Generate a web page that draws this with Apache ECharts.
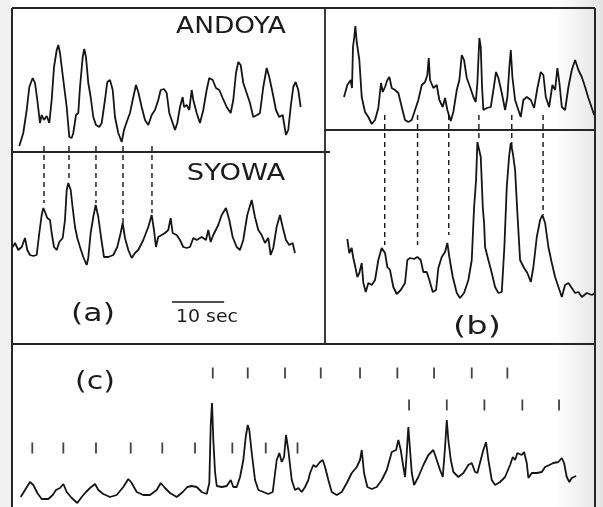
<!DOCTYPE html>
<html>
<head>
<meta charset="utf-8">
<script src="https://cdn.jsdelivr.net/npm/echarts@6/dist/echarts.min.js"></script>
<style>
  html, body { margin: 0; padding: 0; background: #fff; }
  #chart { width: 603px; height: 507px; }
</style>
</head>
<body>
<div id="chart"></div>
<script>
// time in seconds, amplitude in relative units
var andoya = [[1.4,6],[2.17,19],[2.83,42],[3.33,65],[3.98,74],[4.42,69],[4.87,52],[5.38,29],[5.71,37],[6.15,32],[6.67,36],[7.17,29],[7.63,52],[8.08,85],[8.6,102],[8.9,107],[9.23,99],[9.87,72],[10.52,45],[11.02,15],[11.48,14],[11.79,19],[12.31,37],[12.75,39],[13.08,65],[13.6,95],[13.9,103],[14.23,95],[14.67,69],[15.13,55],[15.63,35],[16.15,27],[16.79,25],[17.25,29],[17.88,52],[18.33,70],[18.85,72],[19.37,62],[19.81,35],[20.44,19],[21.1,10],[21.54,22],[22.06,30],[22.69,39],[23.33,55],[23.85,67],[24.29,60],[24.94,45],[25.58,32],[26.21,27],[26.87,37],[27.5,42],[28.13,52],[28.6,62],[29.23,63],[29.75,59],[30.25,39],[30.9,29],[31.35,22],[31.79,29],[32.31,45],[32.83,55],[33.08,45],[33.6,47],[34.1,42],[34.56,62],[34.87,52],[35.52,39],[36.15,29],[36.79,42],[37.44,62],[37.94,74],[38.6,72],[39.23,64],[39.87,62],[40.52,54],[41.29,45],[42.06,39],[42.56,52],[43.08,79],[43.52,90],[43.98,87],[44.48,69],[45.13,59],[45.77,49],[46.4,35],[47.17,37],[47.69,39],[48.33,65],[48.98,84],[49.48,75],[50.13,59],[50.77,42],[51.4,35],[52.06,37],[52.69,17],[53.13,22],[53.6,45],[54.1,65],[54.56,70],[55.06,62],[55.52,45]];

var syowa = [[0.13,97],[0.58,101],[1.21,94],[1.87,97],[2.5,106],[2.94,94],[3.46,89],[4.1,88],[4.75,89],[5.25,111],[5.71,129],[6.02,136],[6.35,132],[6.79,126],[7.31,124],[7.63,111],[8.08,97],[8.6,94],[9.1,102],[9.75,106],[10.19,124],[10.52,154],[10.83,161],[11.29,154],[11.67,136],[12.12,117],[12.56,106],[13.08,97],[13.71,87],[14.37,79],[14.67,86],[15.13,111],[15.63,127],[16.1,139],[16.6,127],[17.12,107],[17.69,87],[18.52,87],[19.48,89],[20.25,97],[20.9,111],[21.29,121],[21.73,106],[22.37,94],[23.02,86],[23.65,91],[24.29,94],[25.25,104],[26.21,117],[26.87,129],[27.31,114],[27.69,97],[28.13,107],[28.79,109],[29.42,111],[30.06,114],[30.52,126],[30.9,111],[31.67,109],[32.31,104],[32.94,97],[33.6,96],[34.23,97],[34.87,106],[35.52,104],[36.48,107],[37.31,104],[37.75,114],[38.21,102],[38.71,109],[39.67,119],[40.33,129],[41.15,136],[41.79,124],[42.44,107],[43.21,97],[43.85,94],[44.48,104],[45.25,129],[46.1,144],[46.73,127],[47.37,114],[48.02,109],[48.65,101],[49.29,106],[49.75,89],[50.25,96],[50.9,117],[51.54,129],[52.06,117],[52.69,104],[53.33,99],[53.98,101],[54.42,91]];

var bUpper = [[3.65,33],[4.29,45],[4.94,50],[5.19,42],[5.38,83],[5.63,93],[5.83,104],[6.1,88],[6.6,70],[7.06,33],[7.69,18],[8.33,13],[8.98,6],[9.62,10],[10.25,22],[10.77,47],[11.1,38],[11.54,43],[11.98,50],[12.37,53],[12.83,42],[13.46,40],[14.1,37],[14.75,23],[15.38,10],[16.02,8],[16.67,10],[17.31,20],[17.94,30],[18.6,45],[19.23,48],[19.67,55],[19.94,72],[20.19,50],[20.83,42],[21.48,45],[21.98,30],[22.63,23],[23.08,32],[23.52,20],[24.17,9],[24.67,18],[25.33,40],[25.83,50],[26.29,75],[26.73,70],[27.25,52],[27.88,43],[28.52,33],[28.98,28],[29.29,47],[29.67,92],[29.94,83],[30.19,43],[30.44,20],[31.1,22],[31.87,23],[32.37,40],[32.88,58],[33.33,52],[33.98,37],[34.62,20],[35.06,33],[35.44,63],[35.71,80],[36.02,53],[36.54,30],[37.17,20],[37.63,13],[38.13,30],[38.79,33],[39.56,30],[40.19,22],[40.83,42],[41.48,58],[41.98,55],[42.44,33],[43.08,23],[43.71,45],[44.23,40],[44.67,62],[45.06,47],[45.52,23],[46.15,20],[46.79,43],[47.44,60],[48.08,70],[48.71,60],[49.37,53],[50.0,43],[50.63,32],[51.29,22],[51.73,15]];

var bLower = [[4.29,105],[4.67,91],[5.13,96],[5.44,86],[5.83,77],[6.21,67],[6.6,71],[7.06,81],[7.37,61],[7.83,52],[8.33,61],[8.98,59],[9.62,64],[10.25,84],[10.9,96],[11.54,91],[11.98,77],[12.5,74],[13.13,57],[13.79,50],[14.56,54],[15.38,61],[15.83,84],[16.35,86],[17.12,85],[17.75,87],[18.4,84],[18.9,72],[19.56,72],[20.06,64],[20.71,52],[21.35,54],[21.79,76],[22.44,87],[23.08,92],[23.52,101],[23.9,87],[24.56,67],[25.33,51],[25.96,46],[26.73,51],[27.56,64],[28.21,84],[28.65,136],[29.04,164],[29.29,202],[29.62,201],[29.94,187],[30.33,137],[30.58,121],[30.77,97],[31.4,84],[32.06,71],[32.69,57],[33.33,51],[33.98,52],[34.48,97],[34.94,157],[35.38,187],[35.71,201],[36.1,191],[36.54,174],[36.98,131],[37.5,84],[38.27,76],[38.9,71],[39.56,62],[40.06,77],[40.71,107],[41.35,124],[41.79,129],[42.31,121],[42.94,97],[43.6,81],[44.23,67],[44.87,57],[45.52,47],[46.15,59],[46.79,61],[47.44,56],[48.08,51],[48.71,52],[49.37,47],[50.33,51],[51.29,49],[51.92,51]];

var cTrace = [[1.67,10],[2.5,17],[3.46,25],[4.1,22],[4.87,14],[5.71,8],[6.98,8],[7.83,12],[8.46,17],[9.23,19],[9.87,23],[10.52,15],[11.48,9],[12.56,4],[13.4,10],[14.23,15],[15.0,19],[15.96,23],[16.6,17],[17.56,13],[18.85,10],[20.13,12],[21.4,20],[22.37,28],[23.02,24],[23.98,15],[25.25,12],[26.54,12],[27.83,17],[28.6,24],[29.42,19],[30.38,14],[31.67,10],[32.83,15],[33.71,20],[34.56,21],[35.52,20],[36.48,15],[37.44,13],[37.94,24],[38.21,82],[38.46,104],[38.71,67],[39.04,35],[39.37,21],[40.33,20],[41.29,21],[42.06,27],[42.56,20],[43.21,20],[43.85,30],[44.48,47],[44.94,70],[45.33,82],[45.63,77],[46.1,54],[46.73,27],[47.37,17],[48.33,15],[49.29,13],[50.13,15],[50.9,47],[51.4,54],[51.87,45],[52.31,50],[52.69,72],[53.13,57],[53.79,27],[54.42,17],[55.06,19],[55.71,15],[56.35,20],[56.98,27],[57.31,34],[57.94,42],[58.46,40],[59.23,45],[59.75,47],[60.19,40],[60.83,27],[61.48,15],[62.44,12],[63.4,15],[64.37,24],[65.33,34],[66.29,40],[66.92,47],[67.25,57],[67.69,34],[68.33,20],[69.17,18],[70.13,20],[71.1,27],[72.06,37],[73.02,55],[73.85,57],[74.29,67],[74.75,57],[75.25,40],[75.58,30],[75.9,54],[76.21,80],[76.54,57],[76.87,34],[77.31,22],[78.13,30],[79.1,42],[80.06,52],[81.02,57],[81.67,47],[82.31,37],[82.83,30],[83.27,60],[83.6,87],[83.9,67],[84.37,47],[84.87,35],[85.83,30],[86.79,34],[87.75,42],[88.4,44],[89.04,35],[89.48,34],[90.13,47],[90.63,57],[91.15,65],[91.6,47],[92.25,27],[92.88,22],[93.85,25],[94.81,30],[95.77,42],[96.29,50],[96.73,47],[97.17,54],[98.02,52],[98.46,55],[98.98,44],[99.29,29],[99.94,34],[100.9,34],[101.87,35],[102.5,40],[103.33,42],[104.1,44],[105.06,45],[105.71,49],[106.15,44],[106.67,30],[107.17,25],[107.63,29],[108.46,31]];

// peak correlation marks (times, s) and where each dashed line stops
var aLinkTimes = [6.15, 10.96, 16.15, 21.35, 26.92];
var aLinkEnds = [141, 162, 141, 118, 131];
var aLinkTop = 198;
var bLinkTimes = [11.48, 17.79, 23.79, 29.58, 35.90, 41.92];
var bLinkEnds = [99, 99, 109, 204, 196, 129];
var bLinkTop = 229;

// tick marks of panel (c): three rows
var cTicksLow = [3.9, 9.87, 16.15, 22.83, 28.9, 35.19, 42.37, 48.79, 54.9];
var cTicksHigh = [38.6, 45.33, 52.5, 59.37, 66.92, 74.1, 81.15, 88.4, 95.25];
var cTicksMid = [76.35, 83.6, 90.83, 98.13, 105.19];
var cTickLevels = [59, 134, 102];

// 10 sec scale bar
var scaleBar = [[30.8, 42], [40.8, 42]];

var INK = '#151515';
var chart = echarts.init(document.getElementById('chart'));

function xAx(i, max) { return { type: 'value', gridIndex: i, min: 0, max: max, show: false }; }
function yAx(i, max) { return { type: 'value', gridIndex: i, min: 0, max: max, show: false }; }
function trace(i, data, w) {
  return { type: 'line', xAxisIndex: i, yAxisIndex: i, data: data, symbol: 'none',
    lineStyle: { color: INK, width: w || 1.8 }, clip: false, silent: true };
}
function dashed(i, t, top, end) {
  return { type: 'line', xAxisIndex: i, yAxisIndex: i, data: [[t, top], [t, end]], symbol: 'none',
    lineStyle: { color: INK, width: 1.4, type: [5, 4] }, clip: false, silent: true };
}
function ticks(times, level) {
  return { type: 'scatter', xAxisIndex: 4, yAxisIndex: 4, symbol: 'rect', symbolSize: [1.8, 11],
    itemStyle: { color: INK }, data: times.map(function (t) { return [t, level]; }), silent: true };
}

var series = [
  trace(0, andoya), trace(1, syowa), trace(2, bUpper), trace(3, bLower), trace(4, cTrace),
  trace(1, scaleBar, 1.5)
];
aLinkTimes.forEach(function (t, k) { series.push(dashed(1, t, aLinkTop, aLinkEnds[k])); });
bLinkTimes.forEach(function (t, k) { series.push(dashed(3, t, bLinkTop, bLinkEnds[k])); });
series.push(ticks(cTicksLow, cTickLevels[0]));
series.push(ticks(cTicksHigh, cTickLevels[1]));
series.push(ticks(cTicksMid, cTickLevels[2]));

function ln(x1, y1, x2, y2, w) {
  return { type: 'line', shape: { x1: x1, y1: y1, x2: x2, y2: y2 }, style: { stroke: '#262626', lineWidth: w || 1.8 }, z: 10 };
}
function txt(s, x, y, size, sx) {
  return { type: 'text', x: x, y: y, scaleX: sx, z: 10,
    style: { text: s, font: size + 'px "DejaVu Sans"', fill: '#1c1c1c', align: 'center', verticalAlign: 'middle' } };
}

chart.setOption({
  animation: false,
  backgroundColor: '#fff',
  grid: [
    { left: 12, top: 8, width: 313, height: 144 },
    { left: 12, top: 152, width: 313, height: 192 },
    { left: 325, top: 8, width: 270, height: 122 },
    { left: 325, top: 130, width: 270, height: 214 },
    { left: 12, top: 344, width: 583, height: 163 }
  ],
  xAxis: [xAx(0, 60.2), xAx(1, 60.2), xAx(2, 51.9), xAx(3, 51.9), xAx(4, 112.1)],
  yAxis: [yAx(0, 144), yAx(1, 192), yAx(2, 122), yAx(3, 214), yAx(4, 163)],
  series: series,
  graphic: [
    { type: 'rect', shape: { x: 0, y: 0, width: 11, height: 507 }, style: { fill: '#f1f1f1' }, z: -1 },
    { type: 'rect', shape: { x: 555, y: 0, width: 48, height: 507 }, z: -1,
      style: { fill: { type: 'linear', x: 0, y: 0, x2: 1, y2: 0,
        colorStops: [{ offset: 0, color: 'rgba(0,0,0,0)' }, { offset: 1, color: 'rgba(0,0,0,0.11)' }] } } },
    ln(12, 8, 595, 8), ln(12, 8, 12, 507, 2), ln(595, 8, 595, 507, 2),
    ln(325, 8, 325, 344), ln(12, 152, 330, 152), ln(325, 130, 595, 130),
    ln(12, 344, 595, 344),
    txt('ANDOYA', 231, 27, 23, 1.15),
    txt('SYOWA', 236, 174, 23, 1.19),
    txt('(a)', 93, 314, 25, 1.26),
    txt('10 sec', 207, 317, 18, 1.05),
    txt('(b)', 477, 327, 25, 1.35),
    txt('(c)', 95, 383, 24, 1.25)
  ]
});
</script>
</body>
</html>
